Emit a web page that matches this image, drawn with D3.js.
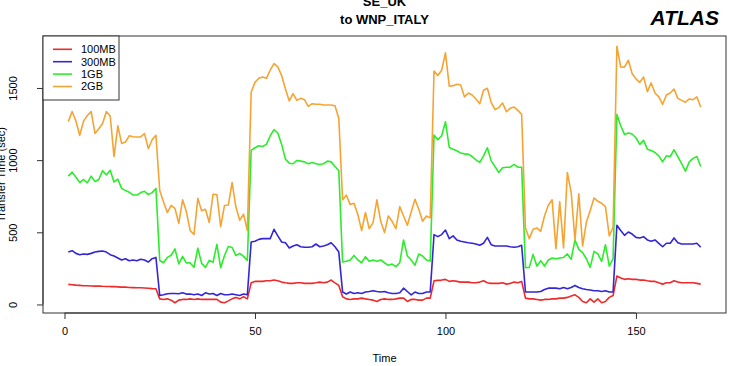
<!DOCTYPE html>
<html lang="en">
<head>
    <meta charset="UTF-8">
    <script src="https://d3js.org/d3.v7.min.js"></script>
    <style>
        body {
            margin: 0;
            background: #fff;
            font-family: "Liberation Sans", Arial, sans-serif;
        }
        .axis text {
            font-size: 11px;
            fill: #000;
        }
        .axis path, .axis line {
            stroke: #333;
        }
        .legend text {
            font-size: 11px;
        }
    </style>
</head>
<body>
    <div id="chart"></div>

    <script>
        // hourly transfer times, t = 1..167
        const seriesNames = ["100MB", "300MB", "1GB", "2GB"];
        const seriesColors = ["#ee2a2a", "#3326d8", "#2cec2c", "#f5a433"];
        const xTicks = [0, 50, 100, 150];
        const yTicks = [0, 500, 1000, 1500];

        const mb100 = [
            139,137,134,132,130,130,128,127,128,126,125,124,124,122,120,120,118,117,116,116,114,112,110,109,
            39,35,39,30,12,30,35,35,39,35,39,35,35,35,35,35,16,12,25,39,49,39,53,39,
            150,160,160,160,164,164,169,164,155,150,146,146,150,150,146,146,146,150,155,150,155,169,150,132,
            53,39,35,39,39,44,39,35,30,21,35,39,35,35,39,44,44,21,35,35,30,30,44,44,
            164,167,169,174,160,164,160,155,155,155,150,150,155,164,150,146,146,146,150,141,146,155,150,160,
            44,39,39,35,30,35,35,39,39,44,44,49,58,67,49,21,12,39,16,39,12,21,49,62,
            197,183,174,178,174,174,169,169,164,160,160,150,141,150,150,164,155,150,150,150,150,146,141
        ];
        const mb300 = [
            363,373,354,345,350,347,354,363,368,370,363,345,336,322,308,317,303,308,303,313,308,294,317,326,
            62,67,74,76,76,74,81,72,72,67,72,62,81,72,76,62,76,67,67,72,67,62,72,67,
            433,438,451,456,456,456,521,475,433,428,391,405,414,400,396,396,400,419,400,405,414,428,400,363,
            86,72,86,76,81,76,86,90,95,90,86,90,81,76,76,81,113,90,67,86,76,76,86,86,
            484,470,484,516,456,475,447,438,433,428,424,419,410,424,465,414,405,405,405,405,400,396,400,410,
            86,86,86,86,90,104,113,113,113,109,118,109,118,132,118,109,104,100,95,95,90,95,86,86,
            549,512,479,502,488,465,461,470,447,438,447,424,400,424,424,461,428,419,419,419,419,424,396
        ];
        const gb1 = [
            889,917,881,845,866,843,889,851,866,927,897,930,849,868,804,789,778,758,758,775,784,761,775,804,
            305,289,326,341,385,281,333,287,288,258,390,285,257,305,293,416,254,339,402,395,338,354,333,305,
            1067,1086,1100,1095,1109,1169,1211,1188,1109,1007,979,975,998,993,988,975,984,975,970,975,993,988,956,928,
            294,299,308,340,308,289,331,299,308,299,308,289,271,280,262,289,447,336,308,271,350,336,308,301,
            1174,1141,1169,1266,1088,1076,1065,1049,1042,1042,1025,1002,984,1030,1086,995,956,914,947,951,951,970,951,951,
            255,257,347,266,303,266,308,322,317,322,326,350,313,447,382,359,317,257,368,350,299,414,266,317,
            1317,1238,1178,1188,1181,1155,1109,1137,1076,1067,1053,1030,988,1030,1025,1072,1025,975,924,988,1012,1025,956
        ];
        const gb2 = [
            1267,1337,1271,1172,1270,1309,1337,1185,1217,1254,1337,1306,1025,1238,1116,1125,1169,1162,1160,1161,1184,1080,1141,1172,
            790,710,637,686,665,562,725,642,512,485,735,650,660,568,764,762,539,686,689,845,675,584,626,512,
            1470,1539,1567,1576,1567,1623,1669,1646,1586,1493,1410,1461,1414,1428,1419,1373,1391,1387,1387,1382,1382,1382,1377,1290,
            725,757,692,701,623,512,637,525,567,725,576,498,613,576,525,678,613,549,641,729,660,576,613,600,
            1618,1586,1623,1743,1512,1516,1526,1521,1438,1465,1451,1424,1391,1484,1498,1401,1350,1364,1396,1336,1359,1368,1345,1317,
            532,456,521,530,507,613,688,725,387,711,391,914,776,447,766,405,572,651,738,715,701,678,475,535,
            1789,1646,1644,1692,1600,1563,1539,1576,1475,1535,1465,1438,1387,1451,1465,1493,1428,1414,1401,1424,1419,1438,1368
        ];
        const allSeries = [mb100, mb300, gb1, gb2];

        const W = 730, H = 366;
        const margin = {top: 36, right: 4, bottom: 53, left: 43},
            width = W - margin.left - margin.right,
            height = H - margin.top - margin.bottom;

        const svg = d3.select("#chart")
            .append("svg")
            .attr("width", W)
            .attr("height", H);

        const g = svg.append("g")
            .attr("transform", `translate(${margin.left},${margin.top})`);

        // R-like 4% padding around the data range
        const n = mb100.length;
        const xExt = [1, n];
        const yExt = [d3.min(allSeries, s => d3.min(s)), d3.max(allSeries, s => d3.max(s))];
        const xPad = (xExt[1] - xExt[0]) * 0.04;
        const yPad = (yExt[1] - yExt[0]) * 0.04;

        const x = d3.scaleLinear()
            .domain([xExt[0] - xPad, xExt[1] + xPad])
            .range([0, width]);

        const y = d3.scaleLinear()
            .domain([yExt[0] - yPad, yExt[1] + yPad])
            .range([height, 0]);

        const line = d3.line()
            .x((d, i) => x(i + 1))
            .y(d => y(d));

        allSeries.forEach((s, k) => {
            g.append("path")
                .datum(s)
                .attr("fill", "none")
                .attr("stroke", seriesColors[k])
                .attr("stroke-width", 1.6)
                .attr("stroke-linejoin", "round")
                .attr("d", line);
        });

        // box
        g.append("rect")
            .attr("x", 0).attr("y", 0)
            .attr("width", width).attr("height", height)
            .attr("fill", "none")
            .attr("stroke", "#333")
            .attr("stroke-width", 1);

        // x axis (R style: line spans first to last tick)
        const xAxis = g.append("g")
            .attr("class", "axis")
            .attr("transform", `translate(0,${height})`)
            .call(d3.axisBottom(x).tickValues(xTicks).tickSize(6).tickPadding(8));
        xAxis.select(".domain")
            .attr("d", `M${x(xTicks[0])},0H${x(xTicks[xTicks.length - 1])}`);

        // y axis with vertical labels
        const yAxis = g.append("g")
            .attr("class", "axis")
            .call(d3.axisLeft(y).tickValues(yTicks).tickSize(6).tickFormat(d3.format("d")));
        yAxis.select(".domain")
            .attr("d", `M0,${y(yTicks[0])}V${y(yTicks[yTicks.length - 1])}`);
        yAxis.selectAll(".tick text")
            .attr("x", 0).attr("dy", null)
            .attr("text-anchor", "middle")
            .attr("transform", "translate(-29,0) rotate(-90)")
            .attr("dominant-baseline", "middle");

        svg.append("text")
            .attr("x", margin.left + width / 2)
            .attr("y", H - 4)
            .attr("text-anchor", "middle")
            .style("font-size", "11px")
            .text("Time");

        svg.append("text")
            .attr("transform", `translate(5,${margin.top + height / 2}) rotate(-90)`)
            .attr("text-anchor", "middle")
            .style("font-size", "11px")
            .text("Transfer Time (sec)");

        // titles
        svg.append("text")
            .attr("x", margin.left + width / 2)
            .attr("y", 6)
            .attr("text-anchor", "middle")
            .style("font-size", "13px")
            .style("font-weight", "bold")
            .text("SE_UK");
        svg.append("text")
            .attr("x", margin.left + width / 2)
            .attr("y", 24)
            .attr("text-anchor", "middle")
            .style("font-size", "13px")
            .style("font-weight", "bold")
            .text("to WNP_ITALY");
        svg.append("text")
            .attr("x", 719)
            .attr("y", 25)
            .attr("text-anchor", "end")
            .style("font-size", "21px")
            .style("font-weight", "bold")
            .style("font-style", "italic")
            .text("ATLAS");

        // legend
        const legend = g.append("g").attr("class", "legend");
        legend.append("rect")
            .attr("x", 0).attr("y", 0)
            .attr("width", 76).attr("height", 64)
            .attr("fill", "#fff")
            .attr("stroke", "#333");
        seriesNames.forEach((name, k) => {
            const ly = 13.3 + k * 12.4;
            legend.append("line")
                .attr("x1", 10).attr("x2", 29)
                .attr("y1", ly).attr("y2", ly)
                .attr("stroke", seriesColors[k])
                .attr("stroke-width", 1.6);
            legend.append("text")
                .attr("x", 38).attr("y", ly)
                .attr("dy", "0.35em")
                .text(name);
        });
    </script>
</body>
</html>
